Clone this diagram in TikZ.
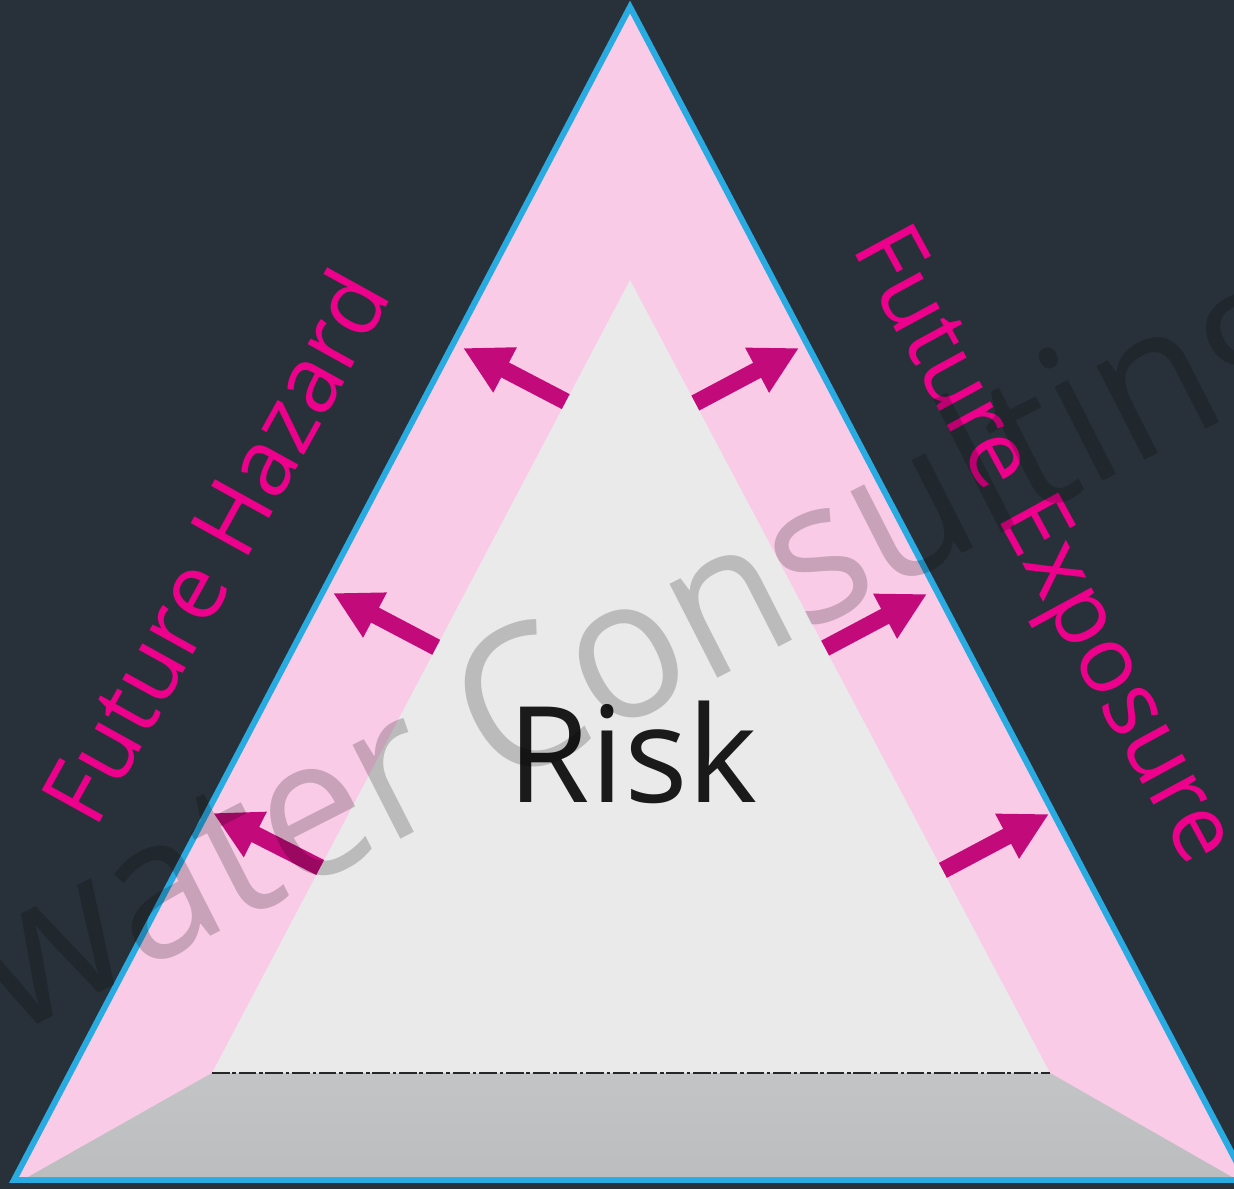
\documentclass[tikz,border=0pt]{standalone}
\usepackage{fontspec}
\setmainfont{Open Sans}
\newfontfamily\markfont{Open Sans}[FakeStretch=0.95]
\usetikzlibrary{arrows.meta}
\definecolor{bgc}{HTML}{283139}
\definecolor{pinkc}{HTML}{F9CBE7}
\definecolor{bluec}{HTML}{29ABE2}
\definecolor{lightc}{HTML}{EAEAEA}
\definecolor{basetop}{HTML}{C2C4C6}
\definecolor{basebot}{HTML}{BBBDBF}
\definecolor{arrowc}{HTML}{C20A7A}
\definecolor{labelc}{HTML}{EC008C}
\definecolor{riskc}{HTML}{1A1A1A}
\tikzset{
  growarrow/.style={draw=arrowc, line width=4.8pt, -{Triangle[length=13.5pt,width=13.5pt]}},
  sidelabel/.style={text=labelc, font=\fontsize{26.3}{30}\selectfont, inner sep=0pt},
}

\begin{document}
\begin{tikzpicture}[x=0.01cm,y=-0.01cm]
  \useasboundingbox (0,0) rectangle (1234,1189);
  \clip (0,0) rectangle (1234,1189);
  \fill[bgc] (0,0) rectangle (1234,1189);
  % outer triangle
  \coordinate (top) at (630,7);
  \coordinate (bl) at (14,1180);
  \coordinate (br) at (1246,1180);
  \filldraw[fill=pinkc, draw=bluec, line width=1.7pt] (top) -- (bl) -- (br) -- cycle;
  % base
  \coordinate (il) at (212,1073);
  \coordinate (ir) at (1050,1073);
  \coordinate (itop) at (630,280);
  \shade[top color=basetop, bottom color=basebot] (il) -- (ir) -- (1232,1177) -- (28,1177) -- cycle;
  % arrows out of the core
  \foreach \sx/\sy/\tx/\ty in {578/408/463/348, 447/653/333/593, 331/873/213/813,
                               686/408/799/348, 816/653/927/594, 936/874/1049/814}
    \draw[growarrow] (\sx,\sy) -- (\tx,\ty);
  % core
  \fill[lightc] (itop) -- (il) -- (ir) -- cycle;
  \draw[black!85, line width=0.8pt, dash pattern=on 5pt off 0.8pt on 1pt off 0.8pt] (il) -- (ir);
  \node[text=riskc, font=\fontsize{38}{40}\selectfont, inner sep=0pt] (risk) at (633,752) {Risk};
  \node[sidelabel, rotate=61] (hazard) at (214,546) {Future Hazard};
  \node[sidelabel, rotate=-61.5] (exposure) at (1039,548) {Future Exposure};
  % watermark
  \node[text=black, text opacity=0.2, font=\markfont\fontsize{56}{60}\selectfont, inner sep=0pt,
        anchor=base west, rotate=27] (mark) at (-79,1084) {ewater Consulting};
\end{tikzpicture}
\end{document}
